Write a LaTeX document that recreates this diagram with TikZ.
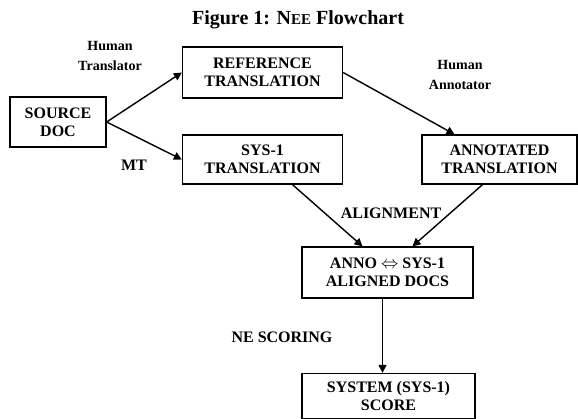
\documentclass[tikz,border=0pt]{standalone}
\usepackage{fontspec}
\setmainfont{Liberation Serif}
\usepackage{tikz}
\usetikzlibrary{arrows.meta,positioning}

\begin{document}
\begin{tikzpicture}[x=1pt,y=-1pt,
    box/.style={draw,line width=1.3pt,align=center,inner sep=2pt,
      font=\bfseries\fontsize{16}{18}\selectfont},
    flow/.style={line width=1.4pt,-{Triangle[length=8pt,width=8pt]}},
    lbl/.style={font=\bfseries\fontsize{16}{18}\selectfont},
    who/.style={font=\bfseries\fontsize{14}{20}\selectfont,align=center}]
  \useasboundingbox (0,0) rectangle (578,419);
  % title
  \node[font=\bfseries\fontsize{20}{22}\selectfont] (title) at (298,20)
    {Figure 1: N{\fontsize{15}{17}\selectfont EE} Flowchart};
  % boxes
  \node[box,minimum width=96pt,minimum height=50pt] (src) at (58,122) {SOURCE\\DOC};
  \node[box,minimum width=160pt,minimum height=51pt] (ref) at (262.5,72.5) {REFERENCE\\TRANSLATION};
  \node[box,minimum width=160pt,minimum height=49pt] (sys) at (262.5,159.5) {SYS-1\\TRANSLATION};
  \node[box,minimum width=155pt,minimum height=49pt] (ann) at (499.5,159.5) {ANNOTATED\\TRANSLATION};
  \node[box,minimum width=171pt,minimum height=51pt] (al) at (387.5,272.5) {ANNO $\Leftrightarrow$ SYS-1\\ALIGNED DOCS};
  \node[box,minimum width=173pt,minimum height=45pt] (score) at (388.5,396) {SYSTEM (SYS-1)\\SCORE};
  % labels
  \node[who] (ht) at (110,56) {Human\\Translator};
  \node[who] (ha) at (460,75) {Human\\Annotator};
  \node[lbl] (mt) at (134,165) {MT};
  \node[lbl] (aln) at (391,213) {ALIGNMENT};
  \node[lbl] (nes) at (282,337) {NE SCORING};
  % arrows
  \draw[flow] (src.east) -- (ref.west);
  \draw[flow] (src.east) -- (sys.west);
  \draw[flow] (ref.east) -- ([xshift=-45pt]ann.north);
  \draw[flow] ([xshift=30pt]sys.south) -- ([xshift=-25pt]al.north);
  \draw[flow] ([xshift=-17pt]ann.south) -- ([xshift=25pt]al.north);
  \draw[flow] ([xshift=-5pt]al.south) -- ([xshift=-6pt]score.north);
\end{tikzpicture}
\end{document}
